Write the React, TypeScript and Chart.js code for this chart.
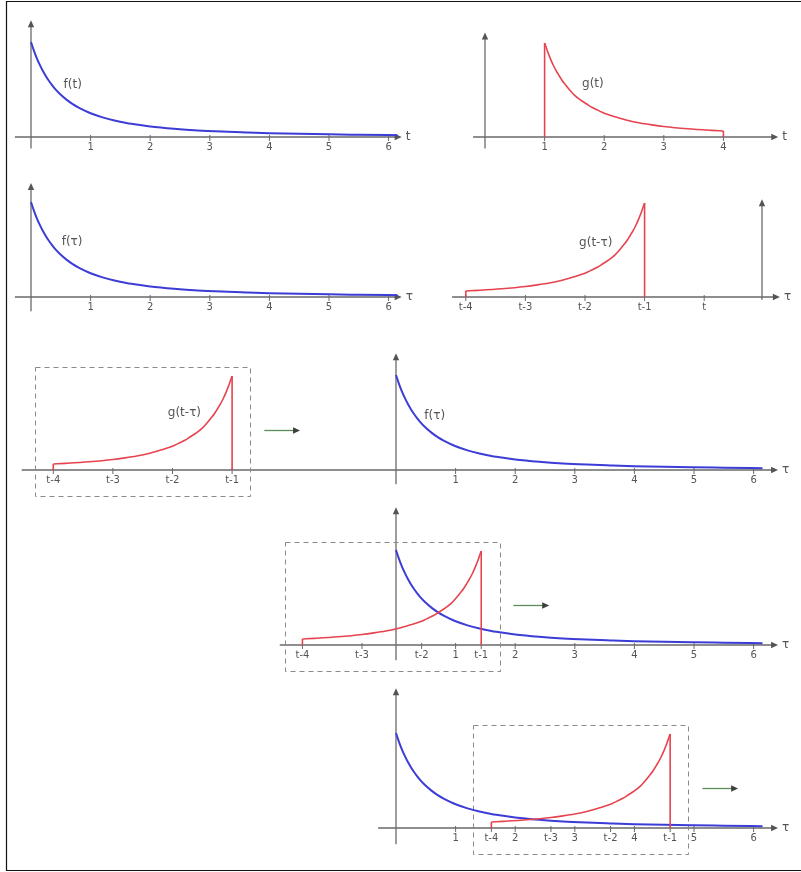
import React, { useEffect, useRef } from 'react';
import { Chart, registerables } from 'chart.js';

Chart.register(...registerables);

// f(τ): samples of the decaying pulse (argument, value)
const F_ARG = [0, 0.05, 0.1, 0.15, 0.2, 0.25, 0.3, 0.35, 0.4, 0.5, 0.6, 0.7, 0.8, 0.9, 1, 1.2, 1.4, 1.6, 1.8, 2, 2.4, 2.8, 3.2, 3.6, 4, 4.5, 5, 5.5, 6.15];
const F_VAL = [1.0, 0.907, 0.826, 0.756, 0.694, 0.64, 0.592, 0.549, 0.51, 0.444, 0.391, 0.346, 0.309, 0.277, 0.25, 0.207, 0.174, 0.148, 0.128, 0.111, 0.087, 0.069, 0.057, 0.048, 0.04, 0.033, 0.028, 0.024, 0.019];

// g(t): samples on its support [1, 4]
const G_ARG = [1, 1.05, 1.1, 1.15, 1.2, 1.25, 1.3, 1.35, 1.4, 1.5, 1.6, 1.7, 1.8, 1.9, 2, 2.2, 2.4, 2.6, 2.8, 3, 3.4, 3.8, 4];
const G_VAL = [0.99, 0.9, 0.82, 0.75, 0.69, 0.64, 0.59, 0.55, 0.51, 0.44, 0.39, 0.35, 0.31, 0.28, 0.25, 0.21, 0.174, 0.148, 0.128, 0.111, 0.087, 0.07, 0.063];

// the shift t used for each sliding copy g(t - τ)
const T_ROW2 = -0.97;
const T_ROW3 = -1.75;
const T_ROW4 = 2.43;
const T_ROW5 = 5.6;

// tick labels
const NUM_LABELS = ['1', '2', '3', '4', '5', '6'];
const NUM_LABELS_G = ['1', '2', '3', '4'];
const SHIFT_LABELS = ['t-4', 't-3', 't-2', 't-1'];
const SHIFT_OFFSETS = [-4, -3, -2, -1];

// canvas geometry
const W = 801;
const H = 872;
const PX_X = 59.6; // pixels per unit of t / τ
const PX_Y = 95; // pixels per unit of value

const BLUE = '#3c3cd6';
const RED = '#e6434f';
const AXIS = '#6a6a6a';
const TEXT = '#555555';

const numTicks = (labels: string[]) => labels.map((l) => ({ v: Number(l), label: l }));
const shiftTicks = (t: number) => SHIFT_OFFSETS.map((o, i) => ({ v: t + o, label: SHIFT_LABELS[i] }));

const xScale = (x0: number) => ({ type: 'linear', display: false, min: -x0 / PX_X, max: (W - x0) / PX_X });
const yScale = (y0: number) => ({ type: 'linear', display: false, min: -(H - y0) / PX_Y, max: y0 / PX_Y });

const PANELS = [
  { xs: 'xL', ys: 'y1', from: -0.27, to: 6.22, top: 1.23, below: 0.12, name: 't', ticks: numTicks(NUM_LABELS) },
  { xs: 'xR', ys: 'y1', from: -0.2, to: 4.92, top: 1.1, below: 0.12, name: 't', ticks: numTicks(NUM_LABELS_G) },
  { xs: 'xL', ys: 'y2', from: -0.27, to: 6.22, top: 1.2, below: 0.15, name: 'τ', ticks: numTicks(NUM_LABELS) },
  { xs: 'xS', ys: 'y2', from: -5.2, to: 0.3, top: 1.03, below: 0.03, name: 'τ', ticks: [...shiftTicks(T_ROW2), { v: T_ROW2, label: 't' }] },
  { xs: 'xM', ys: 'y3', from: -6.28, to: 6.41, top: 1.23, below: 0.15, name: 'τ', ticks: [...shiftTicks(T_ROW3), ...numTicks(NUM_LABELS)] },
  { xs: 'xM', ys: 'y4', from: -1.95, to: 6.41, top: 1.45, below: 0.16, name: 'τ', ticks: [...shiftTicks(T_ROW4), ...numTicks(NUM_LABELS)] },
  { xs: 'xM', ys: 'y5', from: -0.3, to: 6.41, top: 1.47, below: 0.17, name: 'τ', ticks: [...shiftTicks(T_ROW5), ...numTicks(NUM_LABELS)] },
];

const CURVE_LABELS = [
  { xs: 'xL', ys: 'y1', x: 0.7, y: 0.55, text: 'f(t)' },
  { xs: 'xR', ys: 'y1', x: 1.81, y: 0.56, text: 'g(t)' },
  { xs: 'xL', ys: 'y2', x: 0.69, y: 0.58, text: 'f(τ)' },
  { xs: 'xS', ys: 'y2', x: T_ROW2 - 1.82, y: 0.57, text: 'g(t-τ)' },
  { xs: 'xM', ys: 'y3', x: T_ROW3 - 1.8, y: 0.6, text: 'g(t-τ)' },
  { xs: 'xM', ys: 'y3', x: 0.65, y: 0.57, text: 'f(τ)' },
];

// dashed frames around the sliding copy and the arrow showing its motion
const SLIDES = [
  { ys: 'y3', t: T_ROW3 },
  { ys: 'y4', t: T_ROW4 },
  { ys: 'y5', t: T_ROW5 },
];

const fPoints = () => F_ARG.map((x, i) => ({ x, y: F_VAL[i] }));
const gPoints = () => G_ARG.map((x, i) => ({ x, y: G_VAL[i] }));
const gFlipped = (t: number) => G_ARG.map((u, i) => ({ x: t - u, y: G_VAL[i] })).reverse();
const last = G_VAL.length - 1;

const curve = (data: any[], color: string, xs: string, ys: string, width: number) => ({
  data,
  borderColor: color,
  borderWidth: width,
  pointRadius: 0,
  fill: false,
  cubicInterpolationMode: 'monotone',
  xAxisID: xs,
  yAxisID: ys,
});
const edge = (x: number, y: number, xs: string, ys: string) => ({
  data: [{ x, y: 0 }, { x, y }],
  borderColor: RED,
  borderWidth: 1.6,
  pointRadius: 0,
  fill: false,
  tension: 0,
  xAxisID: xs,
  yAxisID: ys,
});
const slidingG = (t: number, xs: string, ys: string) => [
  curve(gFlipped(t), RED, xs, ys, 1.6),
  edge(t - 1, G_VAL[0], xs, ys),
  edge(t - 4, G_VAL[last], xs, ys),
];

function arrowHead(ctx: CanvasRenderingContext2D, x: number, y: number, dir: 'right' | 'up', color: string) {
  ctx.fillStyle = color;
  ctx.beginPath();
  if (dir === 'right') {
    ctx.moveTo(x, y);
    ctx.lineTo(x - 7, y - 3.2);
    ctx.lineTo(x - 7, y + 3.2);
  } else {
    ctx.moveTo(x, y);
    ctx.lineTo(x - 3.2, y + 7);
    ctx.lineTo(x + 3.2, y + 7);
  }
  ctx.closePath();
  ctx.fill();
}

const decor = {
  id: 'decor',
  beforeDatasetsDraw(chart: any) {
    const ctx: CanvasRenderingContext2D = chart.ctx;
    const s = chart.scales;
    ctx.save();
    // outer frame (left, top, bottom)
    ctx.strokeStyle = '#111';
    ctx.lineWidth = 1.2;
    ctx.beginPath();
    ctx.moveTo(6.5, 1);
    ctx.lineTo(6.5, 871);
    ctx.moveTo(6, 1.5);
    ctx.lineTo(W, 1.5);
    ctx.moveTo(6, 870.5);
    ctx.lineTo(W, 870.5);
    ctx.stroke();

    for (const p of PANELS) {
      const sx = s[p.xs];
      const sy = s[p.ys];
      const y0 = sy.getPixelForValue(0);
      const x0 = sx.getPixelForValue(0);
      const xa = sx.getPixelForValue(p.from);
      const xb = sx.getPixelForValue(p.to);
      const yt = sy.getPixelForValue(p.top);
      const yb = sy.getPixelForValue(-p.below);
      ctx.strokeStyle = AXIS;
      ctx.lineWidth = 1.3;
      ctx.beginPath();
      ctx.moveTo(xa, y0);
      ctx.lineTo(xb - 5, y0);
      ctx.moveTo(x0, yb);
      ctx.lineTo(x0, yt + 5);
      ctx.stroke();
      arrowHead(ctx, xb, y0, 'right', '#555');
      arrowHead(ctx, x0, yt, 'up', '#555');
      ctx.lineWidth = 1;
      ctx.beginPath();
      for (const t of p.ticks) {
        const x = sx.getPixelForValue(t.v);
        ctx.moveTo(x, y0 - 2);
        ctx.lineTo(x, y0 + 4);
      }
      ctx.stroke();
      ctx.fillStyle = TEXT;
      ctx.font = '10px "DejaVu Sans"';
      ctx.textAlign = 'center';
      ctx.textBaseline = 'middle';
      for (const t of p.ticks) {
        ctx.fillText(t.label, sx.getPixelForValue(t.v), y0 + 10);
      }
      ctx.font = '12px "DejaVu Sans"';
      ctx.textAlign = 'left';
      ctx.fillText(p.name, xb + 4, y0);
    }

    // dashed frames
    ctx.strokeStyle = '#8a8a8a';
    ctx.lineWidth = 1;
    ctx.setLineDash([5, 4]);
    for (const b of SLIDES) {
      const sx = s.xM;
      const sy = s[b.ys];
      const l = sx.getPixelForValue(b.t - 4.3);
      const r = sx.getPixelForValue(b.t - 0.7);
      const tp = sy.getPixelForValue(1.08);
      const bt = sy.getPixelForValue(-0.28);
      ctx.strokeRect(Math.round(l) + 0.5, Math.round(tp) + 0.5, Math.round(r - l), Math.round(bt - tp));
    }
    ctx.setLineDash([]);
    ctx.restore();
  },
  afterDatasetsDraw(chart: any) {
    const ctx: CanvasRenderingContext2D = chart.ctx;
    const s = chart.scales;
    ctx.save();
    ctx.fillStyle = TEXT;
    ctx.font = '12px "DejaVu Sans"';
    ctx.textAlign = 'center';
    ctx.textBaseline = 'middle';
    for (const c of CURVE_LABELS) {
      ctx.fillText(c.text, s[c.xs].getPixelForValue(c.x), s[c.ys].getPixelForValue(c.y));
    }
    // motion arrows
    for (const b of SLIDES) {
      const sx = s.xM;
      const sy = s[b.ys];
      const a = sx.getPixelForValue(b.t - 1 + 0.54);
      const e = sx.getPixelForValue(b.t - 1 + 1.14);
      const y = Math.round(sy.getPixelForValue(0.42)) + 0.5;
      ctx.strokeStyle = '#5a8f5a';
      ctx.lineWidth = 1.3;
      ctx.beginPath();
      ctx.moveTo(a, y);
      ctx.lineTo(e - 5, y);
      ctx.stroke();
      arrowHead(ctx, e, y, 'right', '#3f3f3f');
    }
    ctx.restore();
  },
};

export default function App() {
  const ref = useRef<HTMLCanvasElement>(null);
  useEffect(() => {
    const datasets: any[] = [
      // row 1
      curve(fPoints(), BLUE, 'xL', 'y1', 2),
      curve(gPoints(), RED, 'xR', 'y1', 1.6),
      edge(1, G_VAL[0], 'xR', 'y1'),
      edge(4, G_VAL[last], 'xR', 'y1'),
      // row 2
      curve(fPoints(), BLUE, 'xL', 'y2', 2),
      ...slidingG(T_ROW2, 'xS', 'y2'),
      // rows 3-5: sliding copy over f(τ)
      ...slidingG(T_ROW3, 'xM', 'y3'),
      curve(fPoints(), BLUE, 'xM', 'y3', 2),
      ...slidingG(T_ROW4, 'xM', 'y4'),
      curve(fPoints(), BLUE, 'xM', 'y4', 2),
      ...slidingG(T_ROW5, 'xM', 'y5'),
      curve(fPoints(), BLUE, 'xM', 'y5', 2),
    ];
    const chart = new Chart(ref.current as HTMLCanvasElement, {
      type: 'line',
      data: { datasets },
      options: {
        animation: false,
        responsive: false,
        maintainAspectRatio: false,
        layout: { padding: 0 },
        events: [],
        plugins: { legend: { display: false }, tooltip: { enabled: false }, title: { display: false } },
        scales: {
          xL: { ...xScale(31), axis: 'x' },
          xR: { ...xScale(485), axis: 'x' },
          xS: { ...xScale(762), axis: 'x' },
          xM: { ...xScale(396), axis: 'x' },
          y1: { ...yScale(137), axis: 'y' },
          y2: { ...yScale(297), axis: 'y' },
          y3: { ...yScale(470), axis: 'y' },
          y4: { ...yScale(645), axis: 'y' },
          y5: { ...yScale(828), axis: 'y' },
        } as any,
      },
      plugins: [decor],
    } as any);
    return () => chart.destroy();
  }, []);
  return (
    <div style={{ position: 'absolute', left: 0, top: 0, width: W, height: H, background: '#fff' }}>
      <canvas ref={ref} width={W} height={H} style={{ display: 'block', width: W, height: H }} />
    </div>
  );
}
